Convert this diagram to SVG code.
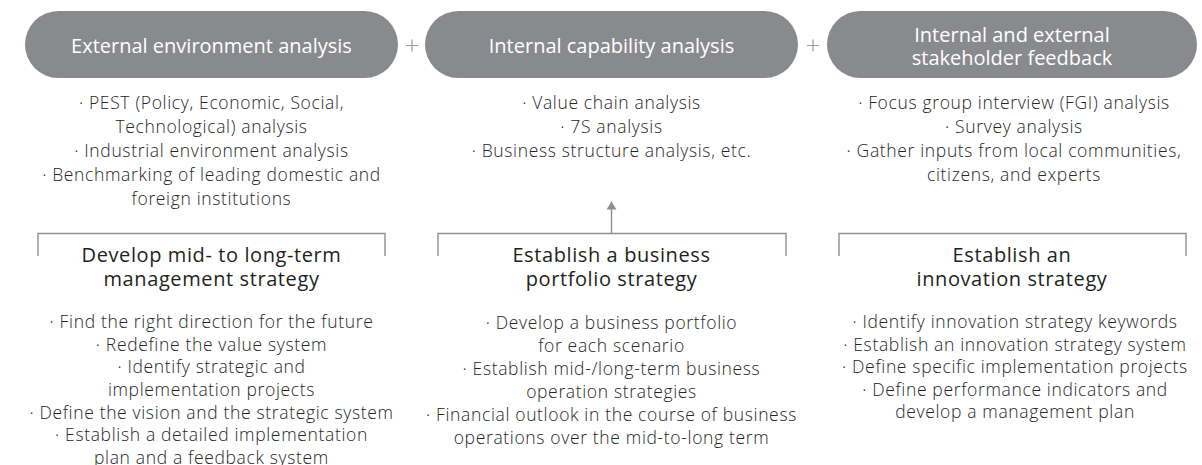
<svg xmlns="http://www.w3.org/2000/svg" width="1202" height="465" viewBox="0 0 1202 465">
<style>
.pill{fill:#898a8d}
.pt{font-family:"Open Sans","Noto Sans",sans-serif;font-size:20px;fill:#ffffff;text-anchor:middle}
.bt{font-family:"Open Sans","Noto Sans",sans-serif;font-weight:300;font-size:17.5px;letter-spacing:0.65px;fill:#262626;text-anchor:middle}
.ht{font-family:"Open Sans","Noto Sans",sans-serif;font-size:20px;letter-spacing:0.6px;fill:#231f20;text-anchor:middle}
.br{fill:none;stroke:#8e8f92;stroke-width:1.4}
.plus{stroke:#9a9b9e;stroke-width:1.2}
</style>
<defs>
<marker id="ah" markerWidth="9" markerHeight="10" refX="8" refY="5" orient="auto" markerUnits="userSpaceOnUse">
<path d="M0,0 L8,5 L0,10 Z" fill="#8e8f92"/>
</marker>
</defs>
<g id="pill-external">
<rect class="pill" x="25" y="11" width="373" height="67" rx="33.5"/>
<text class="pt" x="211.5" y="52.5">External environment analysis</text>
</g>
<g id="pill-internal">
<rect class="pill" x="425" y="11" width="373" height="67" rx="33.5"/>
<text class="pt" x="611.5" y="52.5">Internal capability analysis</text>
</g>
<g id="pill-stakeholder">
<rect class="pill" x="827" y="11" width="370" height="67" rx="33.5"/>
<text class="pt" x="1012" y="41.5">Internal and external</text>
<text class="pt" x="1012" y="64.5">stakeholder feedback</text>
</g>
<g id="plus-signs">
<path class="plus" d="M406,45.5 H418 M412,39.5 V51.5"/>
<path class="plus" d="M807,45.5 H819 M813,39.5 V51.5"/>
</g>
<g id="list-external">
<text class="bt" x="211.5" y="109">· PEST (Policy, Economic, Social,</text>
<text class="bt" x="211.5" y="133">Technological) analysis</text>
<text class="bt" x="211.5" y="157">· Industrial environment analysis</text>
<text class="bt" x="211.5" y="181">· Benchmarking of leading domestic and</text>
<text class="bt" x="211.5" y="205">foreign institutions</text>
</g>
<g id="list-internal">
<text class="bt" x="611.5" y="109">· Value chain analysis</text>
<text class="bt" x="611.5" y="133">· 7S analysis</text>
<text class="bt" x="611.5" y="157">· Business structure analysis, etc.</text>
</g>
<g id="list-stakeholder">
<text class="bt" x="1014" y="109">· Focus group interview (FGI) analysis</text>
<text class="bt" x="1014" y="133">· Survey analysis</text>
<text class="bt" x="1014" y="157">· Gather inputs from local communities,</text>
<text class="bt" x="1014" y="181">citizens, and experts</text>
</g>
<g id="connectors">
<path class="br" d="M38,256 V233.5 H385 V256"/>
<path class="br" d="M438,256 V233.5 H786 V256"/>
<path class="br" d="M839,256 V233.5 H1186 V256"/>
<line class="br" x1="611.5" y1="233.5" x2="611.5" y2="201.5" marker-end="url(#ah)"/>
</g>
<g id="strategy-management">
<text class="ht" x="211.5" y="262">Develop mid- to long-term</text>
<text class="ht" x="211.5" y="286">management strategy</text>
<text class="bt" x="211.5" y="328">· Find the right direction for the future</text>
<text class="bt" x="211.5" y="350.5">· Redefine the value system</text>
<text class="bt" x="211.5" y="373">· Identify strategic and</text>
<text class="bt" x="211.5" y="396">implementation projects</text>
<text class="bt" x="211.5" y="418.5">· Define the vision and the strategic system</text>
<text class="bt" x="211.5" y="441">· Establish a detailed implementation</text>
<text class="bt" x="211.5" y="463.5">plan and a feedback system</text>
</g>
<g id="strategy-portfolio">
<text class="ht" x="611.5" y="262">Establish a business</text>
<text class="ht" x="611.5" y="286">portfolio strategy</text>
<text class="bt" x="611.5" y="328.5">· Develop a business portfolio</text>
<text class="bt" x="611.5" y="351.5">for each scenario</text>
<text class="bt" x="611.5" y="374.5">· Establish mid-/long-term business</text>
<text class="bt" x="611.5" y="397.5">operation strategies</text>
<text class="bt" x="611.5" y="420.5">· Financial outlook in the course of business</text>
<text class="bt" x="611.5" y="443.5">operations over the mid-to-long term</text>
</g>
<g id="strategy-innovation">
<text class="ht" x="1012" y="262">Establish an</text>
<text class="ht" x="1012" y="286">innovation strategy</text>
<text class="bt" x="1015" y="328">· Identify innovation strategy keywords</text>
<text class="bt" x="1015" y="350.5">· Establish an innovation strategy system</text>
<text class="bt" x="1015" y="373">· Define specific implementation projects</text>
<text class="bt" x="1015" y="395.5">· Define performance indicators and</text>
<text class="bt" x="1015" y="418">develop a management plan</text>
</g>
</svg>
